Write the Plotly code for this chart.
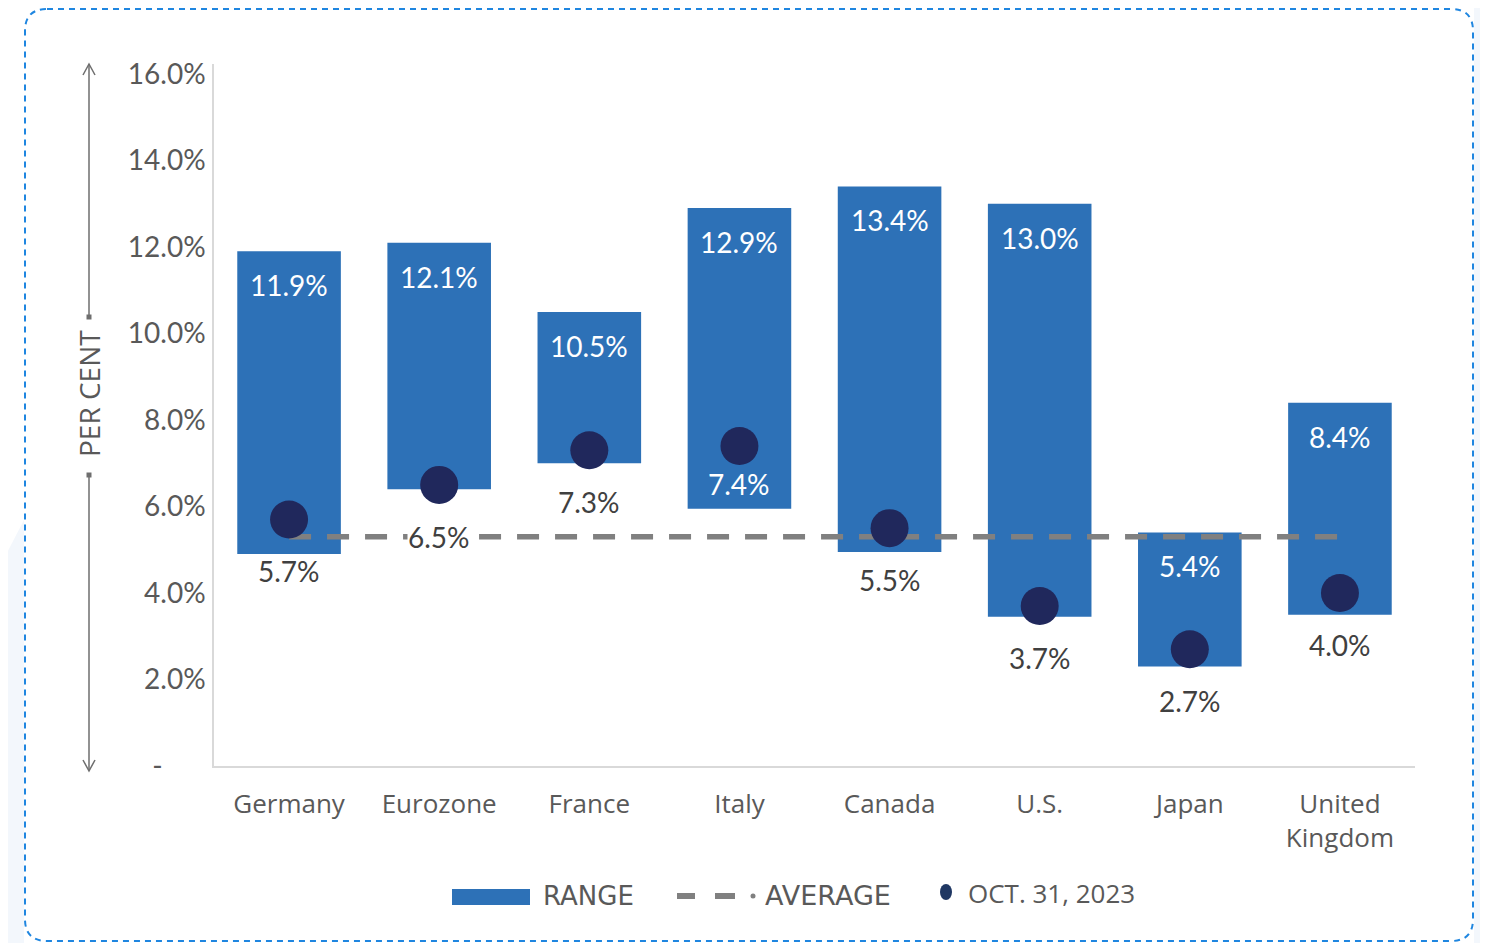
import plotly.graph_objects as go

# ---------------- data ----------------
categories = ["Germany", "Eurozone", "France", "Italy", "Canada", "U.S.", "Japan", "United<br>Kingdom"]
range_low = [4.9, 6.4, 7.0, 5.95, 4.95, 3.45, 2.3, 3.5]
range_high = [11.9, 12.1, 10.5, 12.9, 13.4, 13.0, 5.4, 8.4]
oct31_values = [5.7, 6.5, 7.3, 7.4, 5.5, 3.7, 2.7, 4.0]
average_value = 5.3
y_tick_vals = [0, 2, 4, 6, 8, 10, 12, 14, 16]
y_tick_text = ["-\u00a0\u00a0\u00a0\u00a0\u00a0\u00a0", "2.0%", "4.0%", "6.0%", "8.0%", "10.0%", "12.0%", "14.0%", "16.0%"]

# ---------------- styles ----------------
OFF = 8                      # page offset of the figure in the screenshot
W, H = 1488 - OFF, 943 - OFF
PL, PR, PT, PB = 214, 1415, 64, 766   # plot area in screen pixels
BAR_COLOR = "#2d71b7"
DOT_COLOR = "#20285c"
AVG_COLOR = "#808080"
TEXT_GRAY = "#595959"
LABEL_GRAY = "#404040"
FONT = "Open Sans"
NUM_FONT = "Lato"


def xp(sx):
    return (sx - PL) / (PR - PL)


def yp(sy):
    return (PB - sy) / (PB - PT)


fig = go.Figure()

fig.add_trace(go.Bar(
    x=categories,
    y=[h - l for h, l in zip(range_high, range_low)],
    base=range_low,
    width=0.69,
    marker=dict(color=BAR_COLOR, line=dict(width=0)),
    name="RANGE",
    showlegend=False,
    hoverinfo="skip",
))

fig.add_trace(go.Scatter(
    x=[categories[0], categories[-1]],
    y=[average_value, average_value],
    mode="lines",
    line=dict(color=AVG_COLOR, width=5.5, dash="22px,16px"),
    name="AVERAGE",
    showlegend=False,
))

fig.add_trace(go.Scatter(
    x=categories,
    y=oct31_values,
    mode="markers",
    marker=dict(color=DOT_COLOR, size=38, line=dict(width=0)),
    name="OCT. 31, 2023",
    showlegend=False,
))

annotations = []
# top-of-range labels (inside bar)
for c, v in zip(categories, range_high):
    annotations.append(dict(x=c, y=v, xref="x", yref="y", text=f"{v:.1f}%", showarrow=False,
                            yshift=-34, font=dict(family=NUM_FONT, size=28, color="white")))

# dot labels
for c, v in zip(categories, oct31_values):
    inside = (c == "Italy")
    ann = dict(x=c, y=v, xref="x", yref="y", text=f"{v:.1f}%", showarrow=False,
               yshift=-38 if inside else -52,
               font=dict(family=NUM_FONT, size=28, color="white" if inside else LABEL_GRAY))
    if c == "Eurozone":
        ann["bgcolor"] = "white"
        ann["borderpad"] = 0
    annotations.append(ann)

# y-axis title
annotations.append(dict(x=xp(89), y=yp(394), xref="paper", yref="paper", text="PER CENT",
                        xanchor="center", yanchor="middle",
                        textangle=-90, showarrow=False,
                        font=dict(family=FONT, size=28, color=TEXT_GRAY)))

# custom legend
LEG_Y = 895
annotations.append(dict(x=xp(541), y=yp(LEG_Y + 1), xref="paper", yref="paper", text="RANGE",
                        xanchor="left", yanchor="middle", showarrow=False,
                        font=dict(family="DejaVu Sans", size=26, color=TEXT_GRAY)))
annotations.append(dict(x=xp(763), y=yp(LEG_Y), xref="paper", yref="paper", text="AVERAGE",
                        xanchor="left", yanchor="middle", showarrow=False,
                        font=dict(family="DejaVu Sans", size=27, color=TEXT_GRAY)))
annotations.append(dict(x=xp(966), y=yp(LEG_Y - 2), xref="paper", yref="paper", text="OCT. 31, 2023",
                        xanchor="left", yanchor="middle", showarrow=False,
                        font=dict(family=FONT, size=26, color=TEXT_GRAY)))

shapes = []
LIGHT = "#f3f7fc"
# light decorative background areas outside the border
shapes.append(dict(type="rect", xref="paper", yref="paper", x0=xp(1474), x1=xp(1490), y0=yp(945), y1=yp(0),
                   fillcolor=LIGHT, line=dict(width=0), layer="below"))
shapes.append(dict(type="path", xref="paper", yref="paper",
                   path=f"M {xp(0)},{yp(566)} L {xp(24)},{yp(520)} L {xp(24)},{yp(945)} L {xp(0)},{yp(945)} Z",
                   fillcolor=LIGHT, line=dict(width=0), layer="below"))

# dashed rounded border
bx0, bx1, by0, by1, r = 25, 1473, 9, 941, 22
border = (f"M {xp(bx0 + r)},{yp(by0)} L {xp(bx1 - r)},{yp(by0)} "
          f"Q {xp(bx1)},{yp(by0)} {xp(bx1)},{yp(by0 + r)} "
          f"L {xp(bx1)},{yp(by1 - r)} Q {xp(bx1)},{yp(by1)} {xp(bx1 - r)},{yp(by1)} "
          f"L {xp(bx0 + r)},{yp(by1)} Q {xp(bx0)},{yp(by1)} {xp(bx0)},{yp(by1 - r)} "
          f"L {xp(bx0)},{yp(by0 + r)} Q {xp(bx0)},{yp(by0)} {xp(bx0 + r)},{yp(by0)} Z")
shapes.append(dict(type="path", xref="paper", yref="paper", path=border,
                   line=dict(color="#1f86e0", width=2, dash="6px,5px"), fillcolor="rgba(0,0,0,0)"))

# y-axis title arrow lines
AX = 89
ARROW_COL = "#6e6e6e"
for (a, b) in [(64, 316), (476, 770)]:
    shapes.append(dict(type="line", xref="paper", yref="paper", x0=xp(AX), x1=xp(AX), y0=yp(a), y1=yp(b),
                       line=dict(color=ARROW_COL, width=1.5)))
shapes.append(dict(type="path", xref="paper", yref="paper",
                   path=f"M {xp(AX - 6)},{yp(75)} L {xp(AX)},{yp(64)} L {xp(AX + 6)},{yp(75)}",
                   line=dict(color=ARROW_COL, width=1.5)))
shapes.append(dict(type="path", xref="paper", yref="paper",
                   path=f"M {xp(AX - 6)},{yp(760)} L {xp(AX)},{yp(771)} L {xp(AX + 6)},{yp(760)}",
                   line=dict(color=ARROW_COL, width=1.5)))
for cy in (317, 475):
    shapes.append(dict(type="rect", xref="paper", yref="paper", x0=xp(AX - 2.5), x1=xp(AX + 2.5),
                       y0=yp(cy - 2.5), y1=yp(cy + 2.5), fillcolor=ARROW_COL, line=dict(width=0)))

# legend symbols
shapes.append(dict(type="rect", xref="paper", yref="paper", x0=xp(452), x1=xp(530), y0=yp(905), y1=yp(889),
                   fillcolor=BAR_COLOR, line=dict(width=0)))
for (a, b) in [(677, 695), (715, 735)]:
    shapes.append(dict(type="line", xref="paper", yref="paper", x0=xp(a), x1=xp(b), y0=yp(896), y1=yp(896),
                       line=dict(color=AVG_COLOR, width=6)))
shapes.append(dict(type="circle", xref="paper", yref="paper", x0=xp(750.5), x1=xp(755.5), y0=yp(898.5), y1=yp(893.5),
                   fillcolor=AVG_COLOR, line=dict(width=0)))
shapes.append(dict(type="circle", xref="paper", yref="paper", x0=xp(940), x1=xp(952), y0=yp(900), y1=yp(884),
                   fillcolor="#1f3763", line=dict(width=0)))

fig.update_layout(
    width=W, height=H,
    margin=dict(l=PL - OFF, r=(W + OFF) - PR, t=PT - OFF, b=(H + OFF) - PB, pad=0),
    paper_bgcolor="white",
    plot_bgcolor="white",
    showlegend=False,
    annotations=annotations,
    shapes=shapes,
    font=dict(family=FONT, size=26, color=TEXT_GRAY),
    xaxis=dict(
        range=[-0.5, 7.5],
        showline=True, linecolor="#d9d9d9", linewidth=1.5,
        showgrid=False, zeroline=False, ticks="",
        tickfont=dict(family=FONT, size=26, color=TEXT_GRAY),
        ticklabelstandoff=14,
        fixedrange=True,
    ),
    yaxis=dict(
        range=[0, 16 * (PB - PT) / 692],
        tickvals=y_tick_vals, ticktext=y_tick_text,
        showline=True, linecolor="#d9d9d9", linewidth=1.5,
        showgrid=False, zeroline=False, ticks="",
        tickfont=dict(family=NUM_FONT, size=28, color=TEXT_GRAY),
        ticklabelstandoff=1,
        fixedrange=True,
    ),
)

fig.write_html("out.html")
